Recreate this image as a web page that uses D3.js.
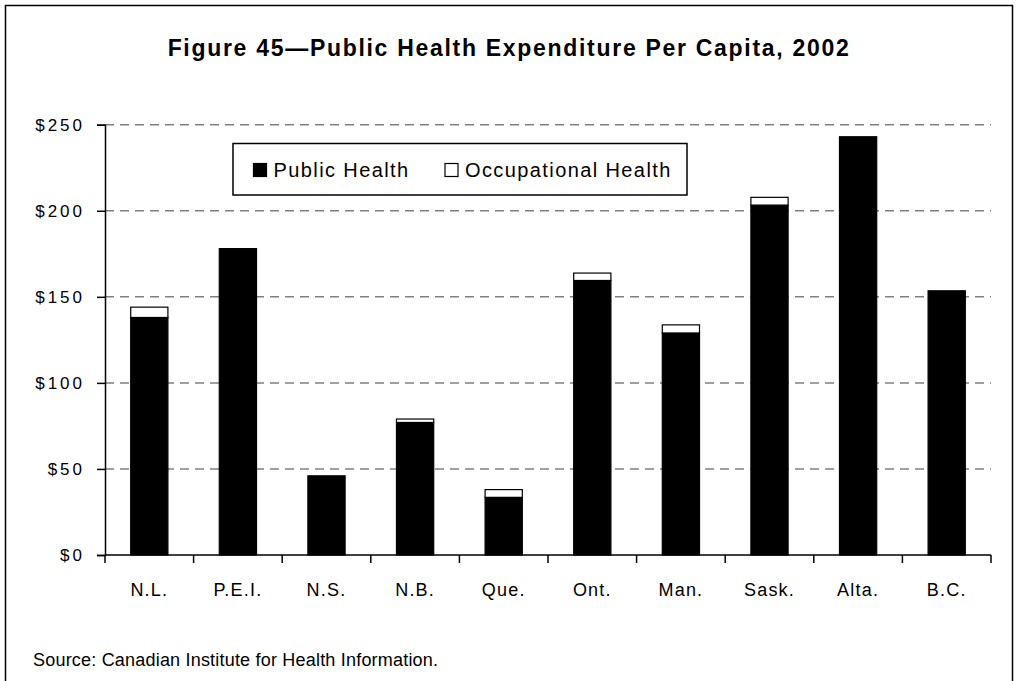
<!DOCTYPE html>
<html>
<head>
<meta charset="utf-8">
<script src="https://cdn.jsdelivr.net/npm/d3@7"></script>
<style>
  html, body { margin: 0; padding: 0; background: #fff; }
  svg { display: block; }
  text { font-family: "Liberation Sans", Arial, Helvetica, sans-serif; fill: #000; }
</style>
</head>
<body>
<svg id="chart" width="1018" height="681"></svg>
<script>
const categories = ["N.L.", "P.E.I.", "N.S.", "N.B.", "Que.", "Ont.", "Man.", "Sask.", "Alta.", "B.C."];
const publicHealth = [138, 178, 46, 77, 33.5, 159.5, 129, 203.3, 243, 153.5];
const occupationalHealth = [6, 0, 0, 2, 4.5, 4.3, 4.7, 4.5, 0, 0];
const yTicks = [0, 50, 100, 150, 200, 250];
const seriesNames = ["Public Health", "Occupational Health"];
const seriesColors = ["#000000", "#ffffff"];
const titleText = "Figure 45\u2014Public Health Expenditure Per Capita, 2002";
const sourceText = "Source: Canadian Institute for Health Information.";

const svg = d3.select("#chart");
const W = 1018, H = 681;
const plot = { left: 105, right: 991, top: 124.7, bottom: 555 };

// outer frame
svg.append("rect")
  .attr("x", 5.5).attr("y", 5.5)
  .attr("width", W - 11).attr("height", H - 4)
  .attr("fill", "none").attr("stroke", "#000").attr("stroke-width", 1.5);

// title
svg.append("text")
  .attr("x", W / 2).attr("y", 56)
  .attr("text-anchor", "middle")
  .style("font-size", "23px").style("font-weight", "bold")
  .style("letter-spacing", "1.7px")
  .text(titleText);

const x = d3.scaleBand()
  .domain(categories)
  .range([plot.left, plot.right])
  .paddingInner(0.58).paddingOuter(0.29);

const y = d3.scaleLinear()
  .domain([0, 250])
  .range([plot.bottom, plot.top]);

// gridlines
svg.append("g")
  .selectAll("line")
  .data(yTicks.filter(d => d > 0))
  .join("line")
  .attr("x1", plot.left).attr("x2", plot.right)
  .attr("y1", d => y(d)).attr("y2", d => y(d))
  .attr("stroke", "#808080").attr("stroke-width", 1.5)
  .attr("stroke-dasharray", "9,6");

// stacked data
const rows = categories.map((c, i) => ({ cat: c, ph: publicHealth[i], oh: occupationalHealth[i] }));
const stack = d3.stack().keys(["ph", "oh"])(rows);

const bars = svg.append("g");
stack.forEach((layer, li) => {
  bars.append("g")
    .selectAll("rect")
    .data(layer.filter(d => d[1] - d[0] > 0))
    .join("rect")
    .attr("x", d => x(d.data.cat))
    .attr("width", x.bandwidth())
    .attr("y", d => y(d[1]))
    .attr("height", d => y(d[0]) - y(d[1]))
    .attr("fill", seriesColors[li])
    .attr("stroke", "#000").attr("stroke-width", 1.2);
});

// y axis
const yAxis = d3.axisLeft(y)
  .tickValues(yTicks)
  .tickSize(8)
  .tickPadding(12)
  .tickFormat(d => "$" + d);
const yg = svg.append("g").attr("transform", `translate(${plot.left},0)`).call(yAxis);
yg.select(".domain").attr("stroke", "#000").attr("stroke-width", 1.5);
yg.selectAll(".tick line").attr("stroke", "#000").attr("stroke-width", 1.5);
yg.selectAll(".tick text")
  .style("font-size", "17px").style("letter-spacing", "3px")
  .attr("font-family", null).attr("fill", "#000");

// x axis with ticks at band boundaries
const xg = svg.append("g").attr("transform", `translate(0,${plot.bottom})`);
xg.append("line")
  .attr("x1", plot.left).attr("x2", plot.right)
  .attr("y1", 0).attr("y2", 0)
  .attr("stroke", "#000").attr("stroke-width", 1.5);
const step = x.step();
const boundaries = categories.map(c => x(c) - x.paddingOuter() * step).concat([plot.right]);
xg.selectAll("line.tk")
  .data(boundaries)
  .join("line").attr("class", "tk")
  .attr("x1", d => d).attr("x2", d => d)
  .attr("y1", 0).attr("y2", 8)
  .attr("stroke", "#000").attr("stroke-width", 1.5);
xg.selectAll("text")
  .data(categories)
  .join("text")
  .attr("x", d => x(d) + x.bandwidth() / 2)
  .attr("y", 41)
  .attr("text-anchor", "middle")
  .style("font-size", "18px").style("letter-spacing", "1.2px")
  .text(d => d);

// legend
const lg = svg.append("g");
lg.append("rect")
  .attr("x", 233).attr("y", 143.5)
  .attr("width", 454).attr("height", 51.5)
  .attr("fill", "#fff").attr("stroke", "#000").attr("stroke-width", 1.5);
const legendX = [253.5, 445];
seriesNames.forEach((n, i) => {
  lg.append("rect")
    .attr("x", legendX[i]).attr("y", 163.5)
    .attr("width", 13).attr("height", 13)
    .attr("fill", seriesColors[i]).attr("stroke", "#000").attr("stroke-width", 1.2);
  lg.append("text")
    .attr("x", legendX[i] + 20).attr("y", 177)
    .style("font-size", "20px").style("letter-spacing", "1.4px")
    .text(n);
});

// source
svg.append("text")
  .attr("x", 33).attr("y", 666)
  .style("font-size", "18px").style("letter-spacing", "0.2px")
  .text(sourceText);
</script>
</body>
</html>
